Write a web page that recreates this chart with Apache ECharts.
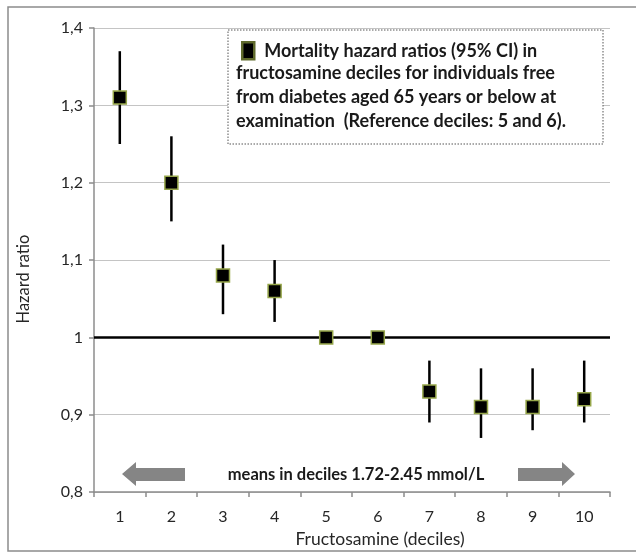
<!DOCTYPE html>
<html>
<head>
<meta charset="utf-8">
<script src="https://cdn.jsdelivr.net/npm/echarts@6/dist/echarts.min.js"></script>
<style>
html,body{margin:0;padding:0;background:#fff;}
#chart{width:636px;height:553px;}
</style>
</head>
<body>
<div id="chart"></div>
<script>
const deciles = ['1','2','3','4','5','6','7','8','9','10'];
const hazardRatio = [1.31, 1.20, 1.08, 1.06, 1.00, 1.00, 0.93, 0.91, 0.91, 0.92];
const ciLower = [1.25, 1.15, 1.03, 1.02, null, null, 0.89, 0.87, 0.88, 0.89];
const ciUpper = [1.37, 1.26, 1.12, 1.10, null, null, 0.97, 0.96, 0.96, 0.97];
const referenceValue = 1;
const yTicks = {min: 0.8, max: 1.4, interval: 0.1};
const legendLines = [
  'Mortality hazard ratios (95% CI) in',
  'fructosamine deciles for individuals free',
  'from diabetes aged 65 years or below at',
  'examination  (Reference deciles: 5 and 6).'
];
const annotationText = 'means in deciles 1.72-2.45 mmol/L';
const xTitle = 'Fructosamine (deciles)';
const yTitle = 'Hazard ratio';

const FONT = 'Lato, "Open Sans", sans-serif';
const chart = echarts.init(document.getElementById('chart'), null, {renderer: 'canvas'});

const ciData = deciles.map((d, i) => [i, ciLower[i], ciUpper[i]]).filter(r => r[1] != null);

const option = {
  backgroundColor: '#fff',
  animation: false,
  grid: {left: 94, right: 26, top: 28, bottom: 54},
  legend: {
    show: true,
    left: 236, top: 36,
    icon: 'rect',
    itemWidth: 12, itemHeight: 17,
    itemGap: 0,
    data: [{name: legendLines[0], itemStyle: {color: '#000', borderColor: '#5f6a2c', borderWidth: 2.5}}],
    textStyle: {fontFamily: FONT, fontWeight: 'bold', fontSize: 18, color: '#1a1a1a', padding: [0,0,0,5]}
  },
  xAxis: {
    type: 'category',
    data: deciles,
    boundaryGap: true,
    name: xTitle,
    nameLocation: 'middle',
    nameGap: 31,
    nameTextStyle: {fontFamily: FONT, fontSize: 17.5, color: '#262626', padding: [0, 0, 0, 56]},
    axisLine: {lineStyle: {color: '#8c8c8c', width: 1.5}},
    axisTick: {show: true, length: 5, alignWithLabel: false, lineStyle: {color: '#8c8c8c', width: 1.5}},
    axisLabel: {fontFamily: FONT, fontSize: 16, color: '#262626', margin: 17},
    splitLine: {show: false}
  },
  yAxis: {
    type: 'value',
    min: yTicks.min, max: yTicks.max, interval: yTicks.interval,
    name: yTitle,
    nameLocation: 'middle',
    nameRotate: 90,
    nameGap: 62,
    nameTextStyle: {fontFamily: FONT, fontSize: 16.5, color: '#262626', padding: [0, 38, 0, 0]},
    axisLine: {show: true, lineStyle: {color: '#8c8c8c', width: 1.5}},
    axisTick: {show: true, length: 5, lineStyle: {color: '#8c8c8c', width: 1.5}},
    axisLabel: {
      fontFamily: FONT, fontSize: 16, color: '#262626', margin: 11,
      formatter: v => {
        const r = Math.round(v * 10) / 10;
        return Number.isInteger(r) ? String(r) : r.toFixed(1).replace('.', ',');
      }
    },
    splitLine: {show: true, lineStyle: {color: '#c4c4c4', width: 1}}
  },
  series: [
    {
      type: 'custom',
      name: 'ci',
      data: ciData,
      z: 3,
      renderItem: (params, api) => {
        const x = api.value(0);
        const lo = api.coord([x, api.value(1)]);
        const hi = api.coord([x, api.value(2)]);
        return {
          type: 'line',
          shape: {x1: lo[0], y1: lo[1], x2: hi[0], y2: hi[1]},
          style: {stroke: '#000', lineWidth: 2.5}
        };
      },
      silent: true
    },
    {
      type: 'scatter',
      name: legendLines[0],
      data: hazardRatio,
      symbol: 'rect',
      symbolSize: 13,
      z: 5,
      itemStyle: {color: '#000', borderColor: '#96a64a', borderWidth: 1.5, opacity: 1},
      markLine: {
        silent: true,
        symbol: 'none',
        label: {show: false},
        lineStyle: {color: '#000', width: 2.5, type: 'solid'},
        data: [{yAxis: referenceValue}],
        z: 2
      }
    }
  ],
  graphic: [
    {type: 'rect', shape: {x: 8, y: 7, width: 640, height: 544}, style: {fill: 'none', stroke: '#8c8c8c', lineWidth: 1.5}, z: 0},
    {type: 'rect', shape: {x: 228, y: 30, width: 375, height: 114}, style: {fill: '#fff', stroke: '#555', lineWidth: 1, lineDash: [1.5, 1.5]}, z: 1},
    {type: 'text', left: 236, top: 61, z: 10,
      style: {text: legendLines.slice(1).join('\n'), font: 'bold 18px ' + FONT, fill: '#1a1a1a', lineHeight: 24}},
    {type: 'polygon', z: 10,
      shape: {points: [[122,474],[136,462],[136,468],[185,468],[185,481],[136,481],[136,486]]},
      style: {fill: '#858585'}},
    {type: 'polygon', z: 10,
      shape: {points: [[575,474],[562,462],[562,468],[518,468],[518,481],[562,481],[562,486]]},
      style: {fill: '#858585'}},
    {type: 'text', x: 356, y: 475, z: 10,
      style: {text: annotationText, font: 'bold 16.5px ' + FONT, fill: '#1a1a1a', textAlign: 'center', textVerticalAlign: 'middle'}}
  ]
};
chart.setOption(option);
</script>
</body>
</html>
